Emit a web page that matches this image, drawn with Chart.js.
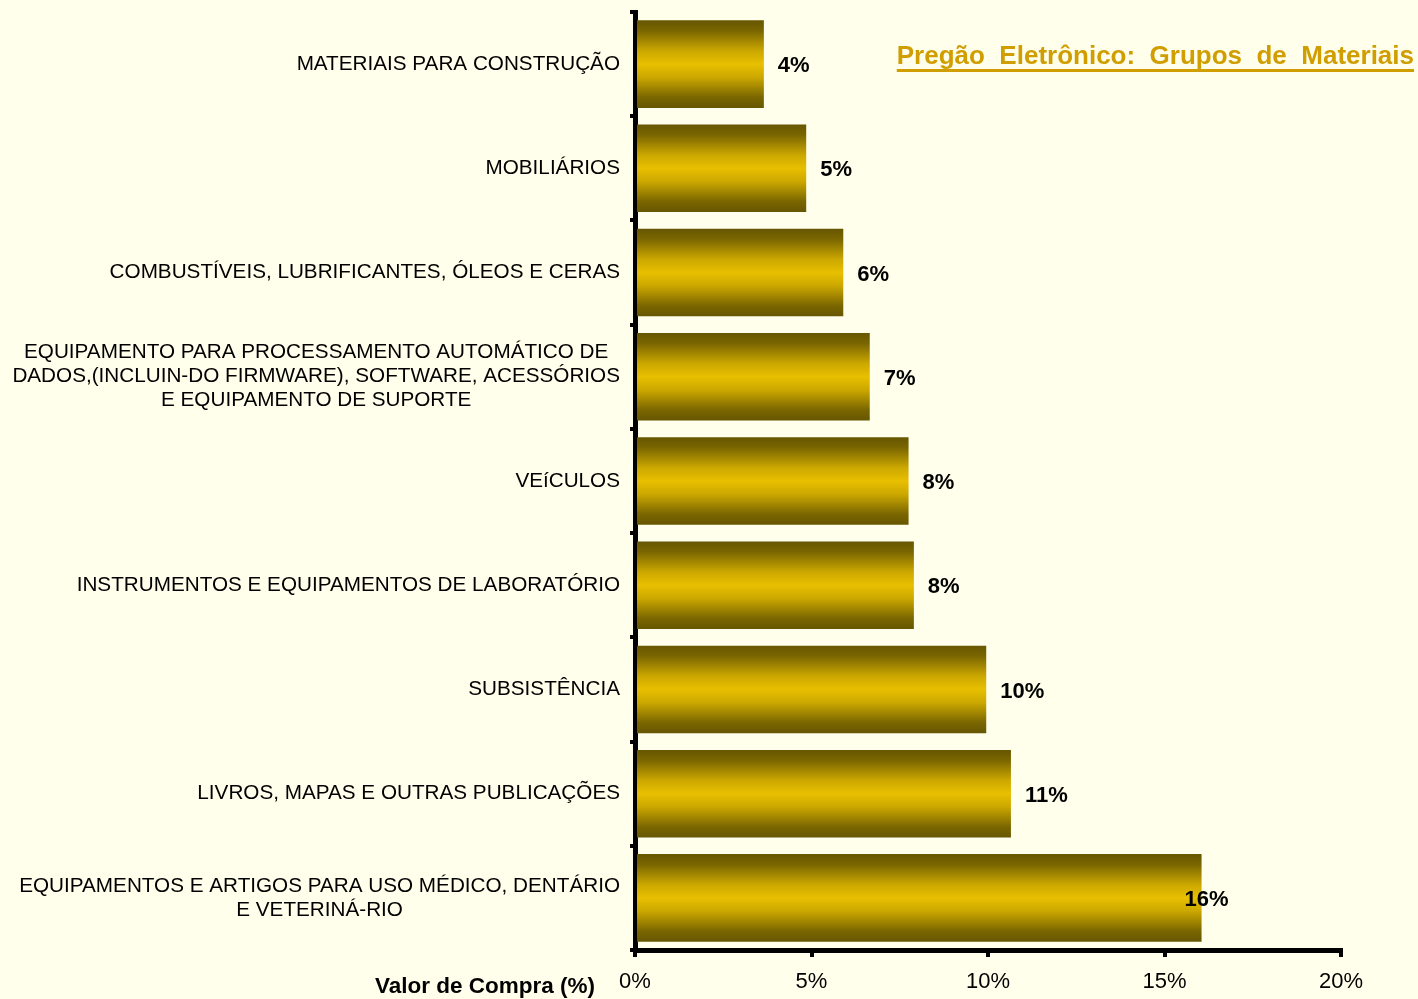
<!DOCTYPE html>
<html>
<head>
<meta charset="utf-8">
<script src="https://cdn.jsdelivr.net/npm/chart.js@4.4.1/dist/chart.umd.min.js"></script>
<style>
  html, body { margin: 0; padding: 0; background: #FFFFEC; }
  #wrap { width: 1418px; height: 999px; position: relative; }
</style>
</head>
<body>
<div id="wrap"><canvas id="chart"></canvas></div>
<script>
// categories, top to bottom
var categories = [
  ["MATERIAIS PARA CONSTRUÇÃO"],
  ["MOBILIÁRIOS"],
  ["COMBUSTÍVEIS, LUBRIFICANTES, ÓLEOS E CERAS"],
  ["EQUIPAMENTO PARA PROCESSAMENTO AUTOMÁTICO DE", "DADOS,(INCLUIN-DO FIRMWARE), SOFTWARE, ACESSÓRIOS", "E EQUIPAMENTO DE SUPORTE"],
  ["VEíCULOS"],
  ["INSTRUMENTOS E EQUIPAMENTOS DE LABORATÓRIO"],
  ["SUBSISTÊNCIA"],
  ["LIVROS, MAPAS E OUTRAS PUBLICAÇÕES"],
  ["EQUIPAMENTOS E ARTIGOS PARA USO MÉDICO, DENTÁRIO", "E VETERINÁ-RIO"]
];
var values = [3.65, 4.85, 5.9, 6.65, 7.75, 7.9, 9.95, 10.65, 16.05];
var xTicks = [0, 5, 10, 15, 20];
var chartTitle = "Pregão  Eletrônico:  Grupos  de  Materiais";
var axisTitle = "Valor de Compra (%)";

var FONT = "'Liberation Sans', Arial, sans-serif";
var BAR_PCT = 0.84;

function barFill(ctx) {
  var chart = ctx.chart;
  var ys = chart.scales.y;
  if (!chart.chartArea || !ys || ctx.dataIndex === undefined) return '#E6BD00';
  var c = ys.getPixelForValue(ctx.dataIndex);
  var h = (ys.height / categories.length) * BAR_PCT;
  var g = chart.ctx.createLinearGradient(0, c - h / 2, 0, c + h / 2);
  g.addColorStop(0, '#665600');
  g.addColorStop(0.12, '#7A6600');
  g.addColorStop(0.35, '#CCA800');
  g.addColorStop(0.5, '#E8BF00');
  g.addColorStop(0.65, '#CCA800');
  g.addColorStop(0.88, '#7A6600');
  g.addColorStop(1, '#665600');
  return g;
}

var bgPlugin = {
  id: 'bg',
  beforeDraw: function (chart) {
    var c = chart.ctx;
    c.save();
    c.fillStyle = '#FFFFEC';
    c.fillRect(0, 0, chart.width, chart.height);
    c.restore();
  }
};

var textPlugin = {
  id: 'texts',
  afterDraw: function (chart) {
    var c = chart.ctx;
    var ys = chart.scales.y;
    var xs = chart.scales.x;
    c.save();
    // category labels, block centred, right edge near axis
    c.font = '20.7px ' + FONT;
    c.fillStyle = '#000';
    c.textBaseline = 'middle';
    c.textAlign = 'center';
    var right = xs.left - 15;
    categories.forEach(function (lines, i) {
      var y = ys.getPixelForValue(i);
      var w = 0;
      lines.forEach(function (l) { w = Math.max(w, c.measureText(l).width); });
      var cx = right - w / 2;
      var y0 = y - (lines.length - 1) * 12;
      lines.forEach(function (l, k) { c.fillText(l, cx, y0 + k * 24); });
    });
    // value labels
    c.font = 'bold 22px ' + FONT;
    var maxV = Math.max.apply(null, values);
    values.forEach(function (v, i) {
      var y = ys.getPixelForValue(i) + 2;
      var xe = xs.getPixelForValue(v);
      var txt = Math.round(v) + '%';
      if (v === maxV) {
        c.textAlign = 'center';
        c.fillText(txt, xe + 5, y);
      } else {
        c.textAlign = 'left';
        c.fillText(txt, xe + 14, y);
      }
    });
    // axis title
    c.font = 'bold 22.5px ' + FONT;
    c.textAlign = 'right';
    c.fillText(axisTitle, xs.left - 40, 987);
    // chart title
    c.font = 'bold 26px ' + FONT;
    c.fillStyle = '#D09E00';
    c.textAlign = 'right';
    var tx = chart.width - 4;
    c.fillText(chartTitle, tx, 57);
    var tw = c.measureText(chartTitle).width;
    c.fillRect(tx - tw, 69, tw, 3);
    c.restore();
  }
};

new Chart(document.getElementById('chart'), {
  type: 'bar',
  data: {
    labels: categories,
    datasets: [{
      data: values,
      backgroundColor: barFill,
      borderWidth: 0,
      barPercentage: BAR_PCT,
      categoryPercentage: 1
    }]
  },
  plugins: [bgPlugin, textPlugin],
  options: {
    indexAxis: 'y',
    responsive: true,
    maintainAspectRatio: false,
    animation: false,
    layout: { padding: { top: 12, right: 77, bottom: 0, left: 0 } },
    plugins: { legend: { display: false }, tooltip: { enabled: false } },
    scales: {
      y: {
        ticks: { display: false },
        grid: { drawOnChartArea: false, color: '#000', lineWidth: 4, tickLength: 5, offset: true },
        border: { color: '#000', width: 5 },
        afterFit: function (s) { s.width = 635; }
      },
      x: {
        min: 0,
        max: 20,
        afterBuildTicks: function (s) { s.ticks = xTicks.map(function (v) { return { value: v }; }); },
        ticks: {
          color: '#000',
          font: { family: FONT, size: 22 },
          padding: 12,
          callback: function (v) { return v + '%'; }
        },
        grid: { drawOnChartArea: false, color: '#000', lineWidth: 4, tickLength: 7 },
        border: { color: '#000', width: 5 },
        afterFit: function (s) { s.height = 49; }
      }
    }
  }
});
</script>
</body>
</html>
